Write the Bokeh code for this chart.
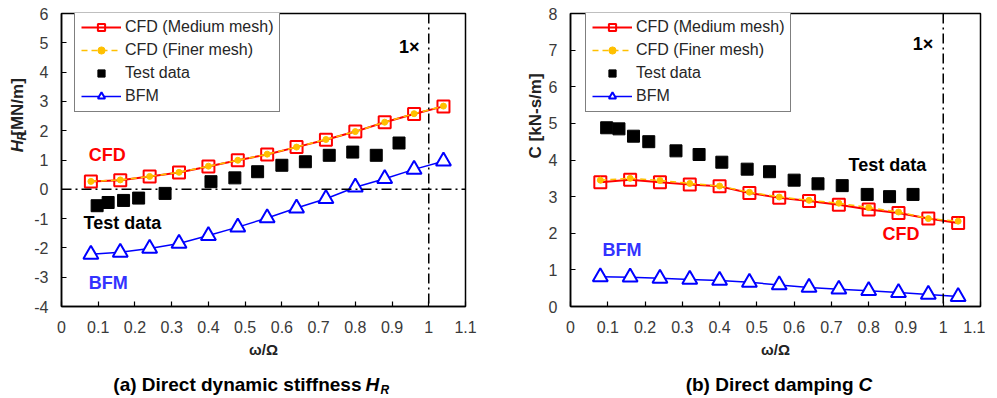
import math
from bokeh.plotting import figure
from bokeh.layouts import row, column
from bokeh.models import (Label, Span, Legend, LegendItem, FixedTicker, Range1d)
from bokeh.embed import file_html
from bokeh.resources import INLINE

# ---------------- data ----------------
omega = [0.08, 0.16, 0.24, 0.32, 0.40, 0.48, 0.56, 0.64, 0.72, 0.80, 0.88, 0.96, 1.04]

cfd_med_H = [0.27, 0.31, 0.44, 0.57, 0.78, 0.99, 1.19, 1.44, 1.69, 1.97, 2.29, 2.57, 2.83]
cfd_fine_H = [0.27, 0.32, 0.44, 0.58, 0.79, 0.99, 1.20, 1.44, 1.70, 1.97, 2.29, 2.58, 2.84]
test_x_H = [0.097, 0.127, 0.169, 0.21, 0.282, 0.407, 0.472, 0.534, 0.60, 0.664, 0.729, 0.793, 0.857, 0.919]
test_H = [-0.56, -0.45, -0.38, -0.30, -0.14, 0.26, 0.39, 0.60, 0.82, 0.94, 1.16, 1.27, 1.16, 1.58]
bfm_H = [-2.22, -2.15, -2.02, -1.85, -1.58, -1.29, -0.98, -0.64, -0.32, 0.07, 0.36, 0.68, 0.96]

cfd_med_C = [3.39, 3.46, 3.39, 3.33, 3.28, 3.10, 2.97, 2.88, 2.78, 2.65, 2.55, 2.40, 2.28]
cfd_fine_C = [3.45, 3.50, 3.44, 3.36, 3.29, 3.12, 2.99, 2.90, 2.82, 2.70, 2.58, 2.40, 2.33]
test_x_C = [0.097, 0.13, 0.169, 0.21, 0.283, 0.345, 0.406, 0.474, 0.534, 0.60, 0.664, 0.729, 0.796, 0.856, 0.919]
test_C = [4.88, 4.85, 4.65, 4.50, 4.25, 4.15, 3.94, 3.75, 3.68, 3.45, 3.35, 3.30, 3.06, 3.00, 3.06]
bfm_C = [0.81, 0.80, 0.77, 0.74, 0.71, 0.66, 0.59, 0.52, 0.47, 0.43, 0.38, 0.33, 0.27]

x_ticks = [0, 0.1, 0.2, 0.3, 0.4, 0.5, 0.6, 0.7, 0.8, 0.9, 1.0, 1.1]
x_tick_labels = ["0", "0.1", "0.2", "0.3", "0.4", "0.5", "0.6", "0.7", "0.8", "0.9", "1", "1.1"]
yH_ticks = [-4, -3, -2, -1, 0, 1, 2, 3, 4, 5, 6]
yH_tick_labels = ["-4", "-3", "-2", "-1", "0", "1", "2", "3", "4", "5", "6"]
yC_ticks = [0, 1, 2, 3, 4, 5, 6, 7, 8]
yC_tick_labels = ["0", "1", "2", "3", "4", "5", "6", "7", "8"]

legend_labels = ["CFD (Medium mesh)", "CFD (Finer mesh)", "Test data", "BFM"]

FONT = "Liberation Sans"
RED = "#FF0000"
ORANGE = "#FFC000"
BLUE = "#0000FF"
BLUE_TXT = "#3333FF"
DASHDOT = "10 4 2 4"
PLOT_H = 358


def make_fig(yr, yticks, ylabels, border_left, frame_w, border_right):
    p = figure(frame_width=frame_w, frame_height=293, x_range=(0, 1.1), y_range=yr,
               output_backend="svg", toolbar_location=None,
               min_border_left=border_left, min_border_right=border_right,
               min_border_top=13, min_border_bottom=PLOT_H - 13 - 293)
    p.xgrid.visible = False
    p.ygrid.visible = False
    p.outline_line_color = "black"
    p.outline_line_width = 1.5
    p.xaxis.ticker = FixedTicker(ticks=x_ticks)
    p.xaxis.major_label_overrides = {t: l for t, l in zip(x_ticks, x_tick_labels)}
    p.yaxis.ticker = FixedTicker(ticks=yticks)
    p.yaxis.major_label_overrides = {t: l for t, l in zip(yticks, ylabels)}
    for ax in (p.xaxis, p.yaxis):
        ax.major_tick_in = 5
        ax.major_tick_out = 0
        ax.minor_tick_in = 0
        ax.minor_tick_out = 0
        ax.axis_line_color = "black"
        ax.axis_line_width = 1.5
        ax.major_tick_line_color = "black"
        ax.major_tick_line_width = 1.2
        ax.major_label_text_font = FONT
        ax.major_label_text_font_size = "16px"
        ax.major_label_text_color = "#3a3a3a"
    p.xaxis.major_label_standoff = 14
    p.yaxis.major_label_standoff = 13
    p.xaxis.axis_label = "ω/Ω"
    p.xaxis.axis_label_text_font = FONT
    p.xaxis.axis_label_text_font_style = "bold"
    p.xaxis.axis_label_text_font_size = "15px"
    p.xaxis.axis_label_text_color = "#222222"
    p.xaxis.axis_label_standoff = 5
    return p


def add_series(p, med, fine, tx, ty, bfm):
    r_med_line = p.line(omega, med, line_color=RED, line_width=2)
    r_med_mk = p.scatter(omega, med, marker="square", size=12, line_color=RED,
                         line_width=2, fill_alpha=0)
    r_fine_line = p.line(omega, fine, line_color=ORANGE, line_width=1.5, line_dash="6 4")
    r_fine_mk = p.scatter(omega, fine, marker="circle", size=6, line_color=ORANGE,
                          fill_color=ORANGE)
    r_test = p.scatter(tx, ty, marker="square", size=12, line_color="black",
                       fill_color="black")
    r_bfm_line = p.line(omega, bfm, line_color=BLUE, line_width=1.5)
    r_bfm_mk = p.scatter(omega, bfm, marker="triangle", size=15, line_color=BLUE,
                         line_width=2, fill_color="white")
    return [
        LegendItem(label=legend_labels[0], renderers=[r_med_line, r_med_mk]),
        LegendItem(label=legend_labels[1], renderers=[r_fine_line, r_fine_mk]),
        LegendItem(label=legend_labels[2], renderers=[r_test]),
        LegendItem(label=legend_labels[3], renderers=[r_bfm_line, r_bfm_mk]),
    ]


def add_legend(p, items, x_off):
    lg = Legend(items=items, location=(x_off, 194), margin=0, padding=6, spacing=5,
                glyph_width=40, glyph_height=18, label_height=18, label_standoff=4,
                label_text_font=FONT, label_text_font_size="16px",
                label_text_color="#262626", border_line_color="black",
                border_line_width=1.3, background_fill_color="white",
                background_fill_alpha=1.0)
    p.add_layout(lg, "center")


def lab(p, x, y, text, color="black", size="18px", style="bold", align="left",
        baseline="middle", angle=0.0):
    p.add_layout(Label(x=x, y=y, text=text, text_color=color, text_font=FONT,
                       text_font_size=size, text_font_style=style, text_align=align,
                       text_baseline=baseline, angle=angle))


def text_panel(x0, x1, y0, y1):
    # blank panel whose data coordinates equal page pixels (y downward)
    f = figure(width=x1 - x0, height=y1 - y0, x_range=Range1d(x0, x1),
               y_range=Range1d(y1, y0), x_axis_location=None, y_axis_location=None,
               output_backend="svg", toolbar_location=None,
               min_border_left=0, min_border_right=0, min_border_top=0, min_border_bottom=0)
    f.outline_line_color = None
    f.xgrid.visible = False
    f.ygrid.visible = False
    return f


# ---------------- left chart ----------------
ylab1 = text_panel(0, 30, 0, PLOT_H)
lab(ylab1, 17, 163, "H", "#222222", "17px", "bold italic", align="center",
    angle=math.pi / 2)
lab(ylab1, 21, 151, "R", "#222222", "12px", "bold italic", align="center",
    angle=math.pi / 2)
lab(ylab1, 17, 115, "[MN/m]", "#222222", "17px", "bold", align="center",
    angle=math.pi / 2)

p1 = make_fig((-4, 6), yH_ticks, yH_tick_labels, 31, 404, 35)
p1.add_layout(Span(location=0, dimension="width", line_color="black", line_width=1.5,
                   line_dash=DASHDOT))
p1.add_layout(Span(location=1.0, dimension="height", line_color="black", line_width=1.5,
                   line_dash=DASHDOT))
items1 = add_series(p1, cfd_med_H, cfd_fine_H, test_x_H, test_H, bfm_H)
add_legend(p1, items1, 13)
lab(p1, 0.074, 1.16, "CFD", RED)
lab(p1, 0.060, -1.16, "Test data", "black")
lab(p1, 0.074, -3.21, "BFM", BLUE_TXT)
lab(p1, 0.919, 4.85, "1×", "black")

# ---------------- right chart ----------------
ylab2 = text_panel(500, 545, 0, PLOT_H)
lab(ylab2, 535, 126, "C [kN-s/m]", "#222222", "17px", "bold", align="center",
    angle=math.pi / 2)

p2 = make_fig((0, 8), yC_ticks, yC_tick_labels, 25, 410, 5)
p2.add_layout(Span(location=1.0, dimension="height", line_color="black", line_width=1.5,
                   line_dash=DASHDOT))
items2 = add_series(p2, cfd_med_C, cfd_fine_C, test_x_C, test_C, bfm_C)
add_legend(p2, items2, 15)
lab(p2, 0.746, 3.85, "Test data", "black")
lab(p2, 0.837, 1.99, "CFD", RED)
lab(p2, 0.086, 1.53, "BFM", BLUE_TXT)
lab(p2, 0.918, 7.18, "1×", "black")

# ---------------- captions ----------------
cap = text_panel(0, 985, PLOT_H, 398)
lab(cap, 361, 382, "(a) Direct dynamic stiffness", "black", "19px", "bold", align="right")
lab(cap, 365, 382, "H", "black", "19px", "bold italic")
lab(cap, 380, 387, "R", "black", "12px", "bold italic")
lab(cap, 853, 382, "(b) Direct damping", "black", "19px", "bold", align="right")
lab(cap, 858, 382, "C", "black", "19px", "bold italic")

layout = column(row(ylab1, p1, ylab2, p2, spacing=0), cap, spacing=0)
open("out.html", "w").write(file_html(layout, INLINE))
